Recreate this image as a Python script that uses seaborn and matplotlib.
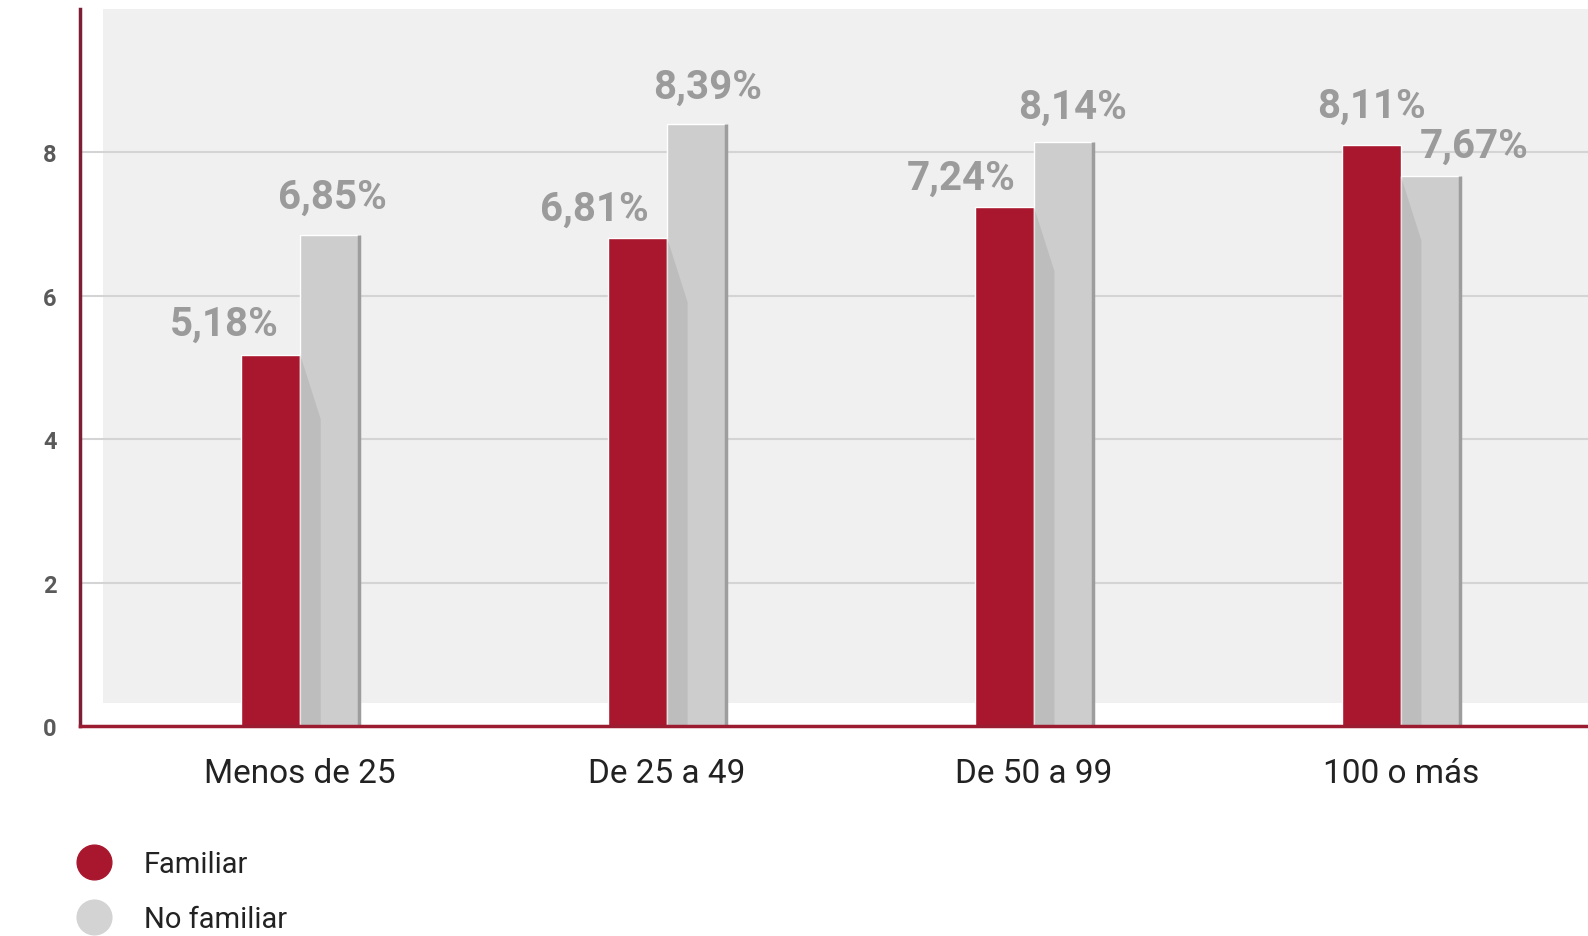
import matplotlib
matplotlib.use("Agg")
import matplotlib.pyplot as plt
import pandas as pd
import seaborn as sns
from matplotlib.lines import Line2D
from matplotlib.patches import Polygon

# Data
categorias = ["Menos de 25", "De 25 a 49", "De 50 a 99", "100 o más"]
familiar = [5.18, 6.81, 7.24, 8.11]
no_familiar = [6.85, 8.39, 8.14, 7.67]
series = ["Familiar", "No familiar"]

df = pd.DataFrame({
    "tamano": categorias * 2,
    "valor": familiar + no_familiar,
    "tipo": [series[0]] * 4 + [series[1]] * 4,
})

# label offsets in pixels (dx, dy) - hand placed like the original
off_fam = [(-47, 12), (-43, 10), (-43, 10), (0, 20)]
off_nofam = [(3, 19), (11, 19), (9, 17), (44, 11)]

rojo = "#a8172d"
gris = "#cdcdcd"

sns.set_theme(style="white")
plt.rcParams["font.family"] = ["Roboto", "DejaVu Sans"]

fig = plt.figure(figsize=(15.88, 9.37), dpi=100)
ax = fig.add_axes([0.0504, 0.2241, 0.9496, 0.7652])

sns.barplot(data=df, x="tamano", y="valor", hue="tipo", order=categorias,
            hue_order=series, palette=[rojo, gris], width=0.32, gap=0,
            saturation=1, legend=False, ax=ax, zorder=3)

ax.set_ylim(0, 10)
ax.set_xlim(-0.60, 3.51)

# light panel behind
ax.axhspan(0.32, 10, xmin=0.0153, xmax=1, color="#f0f0f0", zorder=0, lw=0)
ax.set_yticks([0, 2, 4, 6, 8])
ax.grid(axis="y", color="#d4d4d4", linewidth=1.5, zorder=1)
ax.set_axisbelow(True)

for s in ["top", "right"]:
    ax.spines[s].set_visible(False)
ax.spines["left"].set_color("#7d1f33")
ax.spines["left"].set_linewidth(2.5)
ax.spines["bottom"].set_color("#9b1c30")
ax.spines["bottom"].set_linewidth(2.5)
ax.spines["left"].set_zorder(5)
ax.spines["bottom"].set_zorder(5)

ax.set_xlabel("")
ax.set_ylabel("")
ax.tick_params(axis="y", length=0, pad=17, labelsize=17, labelcolor="#5a5a5a")
ax.tick_params(axis="x", length=0, pad=22, labelsize=24, labelcolor="#222222")
for t in ax.get_yticklabels():
    t.set_fontweight("bold")

# shading on the grey bars + labels
rojas = ax.containers[0]
grises = ax.containers[1]
for i in range(len(categorias)):
    r = rojas[i]
    g = grises[i]
    x0 = g.get_x()
    w = g.get_width()
    top = min(r.get_height(), g.get_height())
    sh = Polygon([(x0, top), (x0 + w * 0.35, top - 0.9), (x0 + w * 0.35, 0),
                  (x0, 0)], closed=True, color="#9a9a9a", alpha=0.3,
                 lw=0, zorder=4)
    ax.add_patch(sh)
    ax.plot([x0 + w, x0 + w], [0, g.get_height()], color="#9d9d9d", lw=2.5,
            zorder=4, solid_capstyle="butt")

    ax.annotate(f"{familiar[i]:.2f}%".replace(".", ","),
                (r.get_x() + r.get_width() / 2, familiar[i]),
                xytext=off_fam[i], textcoords="offset pixels",
                ha="center", va="bottom", fontsize=29, fontweight="bold",
                color="#9b9b9b", zorder=6)
    ax.annotate(f"{no_familiar[i]:.2f}%".replace(".", ","),
                (x0 + w / 2, no_familiar[i]),
                xytext=off_nofam[i], textcoords="offset pixels",
                ha="center", va="bottom", fontsize=29, fontweight="bold",
                color="#9b9b9b", zorder=6)

handles = [Line2D([], [], marker="o", ls="", markersize=25, color=rojo),
           Line2D([], [], marker="o", ls="", markersize=25, color="#d3d3d3")]
fig.legend(handles, series, loc="upper left", bbox_to_anchor=(0.041, 0.104),
           frameon=False, fontsize=21, labelspacing=0.93, handletextpad=1.1,
           borderaxespad=0, handlelength=1.2, labelcolor="#222222")

fig.savefig("out.png", dpi=100)
